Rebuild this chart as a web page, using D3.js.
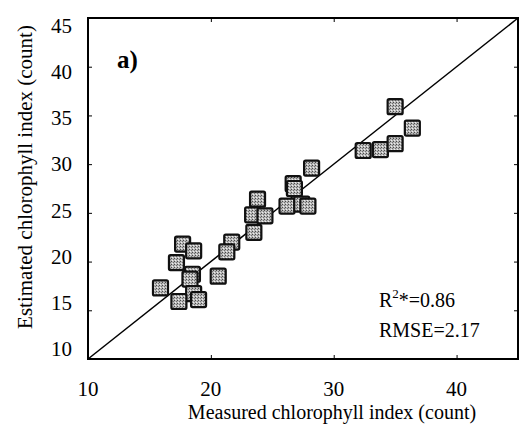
<!DOCTYPE html>
<html>
<head>
<meta charset="utf-8">
<script src="https://cdn.jsdelivr.net/npm/d3@7"></script>
<style>
  html, body { margin: 0; padding: 0; background: #fff; }
  svg { display: block; }
  text { font-family: "Liberation Serif", "Times New Roman", serif; fill: #000; }
</style>
</head>
<body>
<script>
// Measured vs. estimated chlorophyll index (count)
const measured = [17.7, 18.6, 17.2, 18.5, 18.3, 20.6, 15.9, 18.6, 19.0, 17.4,
                  21.7, 21.3, 23.5, 23.4, 24.4, 23.8, 26.2, 27.4, 27.9, 26.7,
                  26.8, 28.2, 32.4, 33.8, 35.0, 36.4, 35.0];
const estimated = [21.8, 21.1, 19.9, 18.7, 18.2, 18.5, 17.3, 16.7, 16.1, 15.9,
                   22.0, 21.0, 23.0, 24.8, 24.7, 26.4, 25.7, 25.9, 25.7, 28.0,
                   27.5, 29.6, 31.4, 31.5, 32.1, 33.7, 35.9];
const xTicks = [10, 20, 30, 40];
const yTicks = [10, 15, 20, 25, 30, 35, 40, 45];
const statLines = ["RMSE=2.17"];

const W = 521, H = 424;
const m = { left: 88, right: 3, top: 18, bottom: 65 };

const svg = d3.select("body").append("svg").attr("width", W).attr("height", H);

const x = d3.scaleLinear().domain([10, 45]).range([m.left, W - m.right]);
const y = d3.scaleLinear().domain([10, 45]).range([H - m.bottom, m.top]);
// the y tick numbers sit on a slightly tighter spacing than the ticks
const yLab = d3.scaleLinear().domain([10, 45]).range([349, 26]);

// stippled grey fill for the markers
const defs = svg.append("defs");
const pat = defs.append("pattern").attr("id", "stipple")
  .attr("width", 3).attr("height", 3).attr("patternUnits", "userSpaceOnUse");
pat.append("rect").attr("width", 3).attr("height", 3).attr("fill", "#b8b8b8");
pat.append("rect").attr("x", 0).attr("y", 0).attr("width", 1).attr("height", 1).attr("fill", "#4a4a4a");
pat.append("rect").attr("x", 2).attr("y", 1).attr("width", 1).attr("height", 1).attr("fill", "#707070");
pat.append("rect").attr("x", 1).attr("y", 2).attr("width", 1).attr("height", 1).attr("fill", "#eee");

// inward ticks on all four sides
const tickLen = 4;
svg.append("g").attr("transform", `translate(0,${y(10)})`)
  .call(d3.axisTop(x).tickValues(xTicks).tickSize(tickLen).tickFormat(""))
  .call(g => g.select(".domain").remove());
svg.append("g").attr("transform", `translate(0,${y(45)})`)
  .call(d3.axisBottom(x).tickValues(xTicks).tickSize(tickLen).tickFormat(""))
  .call(g => g.select(".domain").remove());
svg.append("g").attr("transform", `translate(${x(10)},0)`)
  .call(d3.axisRight(y).tickValues(yTicks).tickSize(tickLen).tickFormat(""))
  .call(g => g.select(".domain").remove());
svg.append("g").attr("transform", `translate(${x(45)},0)`)
  .call(d3.axisLeft(y).tickValues(yTicks).tickSize(tickLen).tickFormat(""))
  .call(g => g.select(".domain").remove());
svg.selectAll(".tick line").attr("stroke", "#000").attr("stroke-width", 1);

// frame
svg.append("rect")
  .attr("x", x(10)).attr("y", y(45))
  .attr("width", x(45) - x(10)).attr("height", y(10) - y(45))
  .attr("fill", "none").attr("stroke", "#000").attr("stroke-width", 2);

// tick labels
svg.append("g").selectAll("text").data(xTicks).join("text")
  .attr("x", d => x(d)).attr("y", y(10) + 37)
  .attr("text-anchor", "middle").attr("font-size", 21)
  .text(d => d);
svg.append("g").selectAll("text").data(yTicks).join("text")
  .attr("x", x(10) - 16).attr("y", d => yLab(d) + 7)
  .attr("text-anchor", "end").attr("font-size", 21)
  .text(d => d);

// 1:1 line
svg.append("line")
  .attr("x1", x(10)).attr("y1", y(10)).attr("x2", x(45)).attr("y2", y(45))
  .attr("stroke", "#000").attr("stroke-width", 1.5);

// observations
const s = 15;
svg.append("g").selectAll("rect").data(measured).join("rect")
  .attr("x", (d, i) => x(d) - s / 2)
  .attr("y", (d, i) => y(estimated[i]) - s / 2)
  .attr("width", s).attr("height", s).attr("rx", 1.5)
  .attr("fill", "url(#stipple)").attr("stroke", "#111").attr("stroke-width", 2.2);

// axis titles
svg.append("text")
  .attr("x", 332).attr("y", H - 5)
  .attr("text-anchor", "middle").attr("font-size", 20)
  .text("Measured chlorophyll index (count)");
svg.append("text")
  .attr("transform", `translate(32,177) rotate(-90)`)
  .attr("text-anchor", "middle").attr("font-size", 21)
  .text("Estimated chlorophyll index (count)");

// panel label
svg.append("text").attr("x", 117).attr("y", 68)
  .attr("font-size", 25).attr("font-weight", "bold").text("a)");

// statistics
const st = svg.append("text").attr("x", 379).attr("y", 307).attr("font-size", 20);
st.append("tspan").text("R");
st.append("tspan").attr("dy", -9).attr("font-size", 13).text("2");
st.append("tspan").attr("dy", 9).text("*=0.86");
svg.append("text").attr("x", 379).attr("y", 337).attr("font-size", 20).text(statLines[0]);
</script>
</body>
</html>
